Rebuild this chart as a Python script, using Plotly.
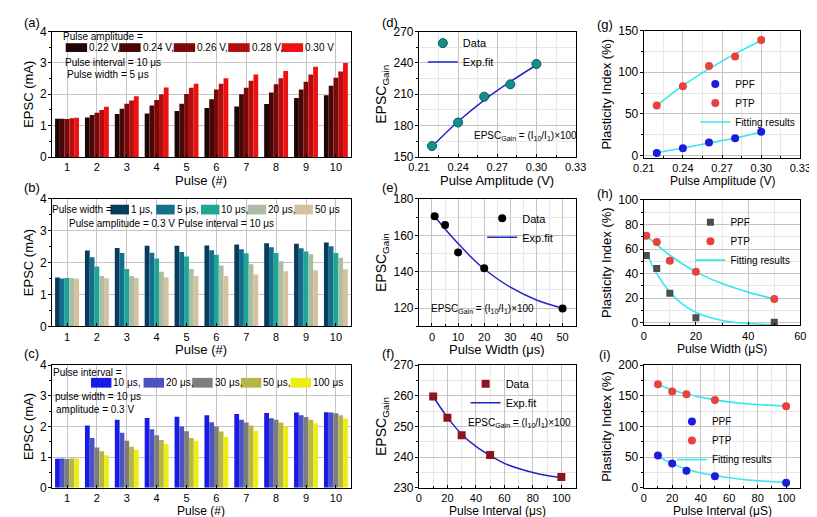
import plotly.graph_objects as go

# ---------------- data ----------------
pulses = [1, 2, 3, 4, 5, 6, 7, 8, 9, 10]

# (a) pulse amplitude series
amp_labels = ["0.22 V,", "0.24 V,", "0.26 V,", "0.28 V,", "0.30 V"]
epsc_a_022 = [1.22, 1.26, 1.37, 1.39, 1.47, 1.56, 1.61, 1.69, 1.88, 1.97]
epsc_a_024 = [1.22, 1.34, 1.54, 1.64, 1.70, 1.84, 2.00, 2.06, 2.15, 2.27]
epsc_a_026 = [1.21, 1.41, 1.70, 1.82, 2.01, 2.15, 2.21, 2.32, 2.40, 2.53]
epsc_a_028 = [1.24, 1.50, 1.80, 2.00, 2.21, 2.34, 2.43, 2.51, 2.63, 2.73]
epsc_a_030 = [1.25, 1.60, 1.94, 2.22, 2.34, 2.51, 2.63, 2.74, 2.88, 3.00]

# (b) pulse width series
width_labels = ["1 μs,", "5 μs,", "10 μs,", "20 μs,", "50 μs"]
epsc_b_1 = [1.53, 2.38, 2.46, 2.53, 2.53, 2.54, 2.57, 2.61, 2.59, 2.63]
epsc_b_5 = [1.50, 2.17, 2.30, 2.31, 2.33, 2.39, 2.42, 2.48, 2.45, 2.51]
epsc_b_10 = [1.52, 1.88, 1.80, 2.13, 2.19, 2.25, 2.29, 2.30, 2.35, 2.30]
epsc_b_20 = [1.51, 1.58, 1.58, 1.71, 1.80, 1.91, 1.95, 2.04, 2.26, 2.15]
epsc_b_50 = [1.50, 1.51, 1.52, 1.54, 1.58, 1.58, 1.63, 1.73, 1.76, 1.79]

# (c) pulse interval series
interval_labels = ["10 μs,", "20 μs,", "30 μs,", "50 μs,", "100 μs"]
epsc_c_10 = [0.95, 2.03, 2.22, 2.28, 2.32, 2.37, 2.41, 2.44, 2.46, 2.47]
epsc_c_20 = [0.96, 1.63, 1.80, 1.91, 2.00, 2.14, 2.22, 2.27, 2.37, 2.46]
epsc_c_30 = [0.94, 1.32, 1.54, 1.72, 1.85, 2.00, 2.13, 2.22, 2.31, 2.43]
epsc_c_50 = [0.96, 1.19, 1.34, 1.56, 1.63, 1.84, 2.03, 2.13, 2.22, 2.37]
epsc_c_100 = [0.96, 1.06, 1.24, 1.43, 1.54, 1.66, 1.86, 1.99, 2.11, 2.26]

# (d) gain vs amplitude
amp_x = [0.22, 0.24, 0.26, 0.28, 0.30]
gain_amp = [160.5, 183.0, 207.7, 219.5, 239.0]
fit_amp_y = [160.0, 184.0, 204.5, 222.0, 238.0]

# (e) gain vs width
width_x = [1, 5, 10, 20, 50]
gain_width = [170.5, 165.6, 150.6, 141.9, 119.8]
fit_width_x = [1, 5, 10, 15, 20, 30, 40, 50]
fit_width_y = [170.5, 163.5, 155.5, 148.0, 141.5, 131.5, 124.5, 120.0]

# (f) gain vs interval
interval_x = [10, 20, 30, 50, 100]
gain_interval = [259.8, 252.9, 247.2, 240.7, 233.5]
fit_interval_x = [10, 20, 30, 40, 50, 60, 70, 80, 90, 100]
fit_interval_y = [259.8, 253.0, 247.5, 243.5, 240.5, 238.0, 236.3, 235.0, 234.0, 233.3]

# (g) plasticity vs amplitude
ppf_amp = [3.1, 8.6, 15.6, 20.7, 28.5]
ptp_amp = [60.2, 83.2, 107.4, 118.8, 138.7]
fit_ppf_amp = [3.5, 9.0, 15.0, 21.0, 28.0]
fit_ptp_amp = [60.0, 84.0, 104.0, 122.0, 138.0]

# (h) plasticity vs width
ppf_width = [54.7, 44.2, 24.0, 4.2, 0.5]
ptp_width = [70.8, 65.8, 50.5, 41.6, 19.5]
fit_ppf_width_x = [1, 5, 10, 15, 20, 30, 40, 50]
fit_ppf_width_y = [57.5, 40.0, 25.0, 15.0, 8.5, 2.0, -0.5, -1.5]
fit_ptp_width_x = [1, 5, 10, 20, 30, 40, 50]
fit_ptp_width_y = [71.0, 63.5, 55.0, 41.5, 32.0, 25.0, 19.5]

# (i) plasticity vs interval
ppf_interval = [52.6, 39.7, 27.8, 19.0, 8.2]
ptp_interval = [169.0, 157.0, 152.6, 143.3, 133.0]
fit_int_x = [10, 20, 30, 50, 70, 100]
fit_ppf_int_y = [51.5, 39.5, 30.5, 20.0, 13.5, 9.0]
fit_ptp_int_y = [168.0, 160.0, 153.0, 143.5, 137.5, 133.5]

# ---------------- styles / layout ----------------
W, H = 817, 517
FONT = "Arial, Liberation Sans, sans-serif"

def fx(p):
    return p / W

def fy(p):
    return 1 - p / H

amp_colors = ["#1e0606", "#4a0707", "#7a0a0a", "#b30d0d", "#ee1111"]
width_colors = ["#083b5c", "#136f8c", "#1fa596", "#a9bea5", "#d5c0a0"]
interval_colors = ["#1a1ae6", "#4b52c4", "#7d7d7d", "#b5b548", "#eded14"]
FIT_BLUE = "#2424c8"
FIT_CYAN = "#33e8f0"
PPF_BLUE = "#1c1cdc"
PTP_RED = "#e8413e"

# panel pixel boxes: (x0, x1, ytop, ybottom)
boxes = {
    1: (34, 341, 17, 146), 2: (34, 341, 189, 320), 3: (34, 341, 360, 486),
    4: (411, 572, 17, 146), 5: (411, 572, 189, 320), 6: (411, 572, 360, 486),
    7: (642, 803, 16, 147), 8: (642, 803, 190, 319), 9: (642, 803, 360, 486),
}

fig = go.Figure()

def ax_name(i, kind):
    return kind if i == 1 else f"{kind}{i}"

def add_bars(i, series, labels, colors):
    for vals, lab, col in zip(series, labels, colors):
        fig.add_trace(go.Bar(x=pulses, y=vals, name=lab, marker_color=col,
                             marker_line_width=0, showlegend=False,
                             xaxis=ax_name(i, "x"), yaxis=ax_name(i, "y")))

add_bars(1, [epsc_a_022, epsc_a_024, epsc_a_026, epsc_a_028, epsc_a_030], amp_labels, amp_colors)
add_bars(2, [epsc_b_1, epsc_b_5, epsc_b_10, epsc_b_20, epsc_b_50], width_labels, width_colors)
add_bars(3, [epsc_c_10, epsc_c_20, epsc_c_30, epsc_c_50, epsc_c_100], interval_labels, interval_colors)

def sc(i, x, y, name, legend, rank, **kw):
    fig.add_trace(go.Scatter(x=x, y=y, name=name, legend=legend, legendrank=rank,
                             xaxis=ax_name(i, "x"), yaxis=ax_name(i, "y"), **kw))

# (d)
sc(4, amp_x, fit_amp_y, "Exp.fit", "legend4", 2, mode="lines",
   line=dict(color=FIT_BLUE, width=1.5, shape="spline"))
sc(4, amp_x, gain_amp, "Data", "legend4", 1, mode="markers",
   marker=dict(color="#11908e", size=9, line=dict(color="#0a5a5a", width=1)))
# (e)
sc(5, fit_width_x, fit_width_y, "Exp.fit", "legend5", 2, mode="lines",
   line=dict(color=FIT_BLUE, width=1.5, shape="spline"))
sc(5, width_x, gain_width, "Data", "legend5", 1, mode="markers",
   marker=dict(color="black", size=8))
# (f)
sc(6, fit_interval_x, fit_interval_y, "Exp.fit", "legend6", 2, mode="lines",
   line=dict(color=FIT_BLUE, width=1.5, shape="spline"))
sc(6, interval_x, gain_interval, "Data", "legend6", 1, mode="markers",
   marker=dict(color="#8e1420", size=8, symbol="square"))
# (g)
sc(7, amp_x, fit_ptp_amp, "Fitting results", "legend7", 3, mode="lines",
   line=dict(color=FIT_CYAN, width=1.6, shape="spline"))
sc(7, amp_x, fit_ppf_amp, "Fitting results", "legend7", 4, mode="lines", showlegend=False,
   line=dict(color=FIT_CYAN, width=1.6, shape="spline"))
sc(7, amp_x, ppf_amp, "PPF", "legend7", 1, mode="markers",
   marker=dict(color=PPF_BLUE, size=8))
sc(7, amp_x, ptp_amp, "PTP", "legend7", 2, mode="markers",
   marker=dict(color=PTP_RED, size=8))
# (h)
sc(8, fit_ptp_width_x, fit_ptp_width_y, "Fitting results", "legend8", 3, mode="lines",
   line=dict(color=FIT_CYAN, width=1.6, shape="spline"))
sc(8, fit_ppf_width_x, fit_ppf_width_y, "Fitting results", "legend8", 4, mode="lines",
   showlegend=False, line=dict(color=FIT_CYAN, width=1.6, shape="spline"))
sc(8, width_x, ppf_width, "PPF", "legend8", 1, mode="markers",
   marker=dict(color="#4d4d4d", size=7, symbol="square"))
sc(8, width_x, ptp_width, "PTP", "legend8", 2, mode="markers",
   marker=dict(color=PTP_RED, size=8))
# (i)
sc(9, fit_int_x, fit_ptp_int_y, "Fitting results", "legend9", 3, mode="lines",
   line=dict(color=FIT_CYAN, width=1.6, shape="spline"))
sc(9, fit_int_x, fit_ppf_int_y, "Fitting results", "legend9", 4, mode="lines",
   showlegend=False, line=dict(color=FIT_CYAN, width=1.6, shape="spline"))
sc(9, interval_x, ppf_interval, "PPF", "legend9", 1, mode="markers",
   marker=dict(color=PPF_BLUE, size=8))
sc(9, interval_x, ptp_interval, "PTP", "legend9", 2, mode="markers",
   marker=dict(color=PTP_RED, size=8))

# ---------------- axes ----------------
def base_axis(minor_dtick=None, minor_grid=True, standoff=0, tickdir="outside", tsize=12):
    d = dict(showline=True, linecolor="black", linewidth=1, mirror=True,
             ticks=tickdir, ticklen=3, tickwidth=1, tickcolor="black",
             ticklabelstandoff=standoff,
             showgrid=True, gridcolor="#c4c4c4", gridwidth=1, zeroline=False,
             tickfont=dict(size=tsize, color="black", family=FONT))
    if minor_dtick is not None:
        d["minor"] = dict(dtick=minor_dtick, ticks=tickdir, ticklen=2,
                          tickcolor="black", showgrid=minor_grid, gridcolor="#e8e8e8")
    return d

xcfg = {
    1: dict(range=[0.5, 10.5], tickvals=pulses, minor=None, mg=False),
    2: dict(range=[0.5, 10.5], tickvals=pulses, minor=None, mg=False),
    3: dict(range=[0.5, 10.5], tickvals=pulses, minor=None, mg=False),
    4: dict(range=[0.21, 0.33], dtick=0.03, tick0=0.21, fmt=".2f", minor=0.015, mg=True),
    5: dict(range=[-5, 55], dtick=10, tick0=0, minor=5, mg=True),
    6: dict(range=[0, 110], dtick=20, tick0=0, minor=10, mg=True),
    7: dict(range=[0.21, 0.33], dtick=0.03, tick0=0.21, fmt=".2f", minor=0.015, mg=True),
    8: dict(range=[0, 60], dtick=20, tick0=0, minor=10, mg=True),
    9: dict(range=[0, 110], dtick=20, tick0=0, minor=10, mg=True),
}
ycfg = {
    1: dict(range=[0, 4], dtick=1, title="EPSC (mA)", tsize=13, minor=0.5, mg=False),
    2: dict(range=[0, 4], dtick=1, title="EPSC (mA)", tsize=13, minor=0.5, mg=False),
    3: dict(range=[0, 4], dtick=1, title="EPSC (mA)", tsize=13, minor=0.5, mg=False),
    4: dict(range=[150, 270], dtick=30, title="EPSC<sub>Gain</sub>", tsize=14, minor=15, mg=True),
    5: dict(range=[110, 180], dtick=20, tick0=120, title="EPSC<sub>Gain</sub>", tsize=14, minor=10, mg=True),
    6: dict(range=[230, 270], dtick=10, title="EPSC<sub>Gain</sub>", tsize=14, minor=5, mg=True),
    7: dict(range=[-3, 150], dtick=50, tick0=0, title="Plasticity Index (%)", tsize=13, minor=25, mg=True),
    8: dict(range=[-2, 100], dtick=20, tick0=0, title="Plasticity Index (%)", tsize=13, minor=10, mg=True),
    9: dict(range=[0, 200], dtick=50, tick0=0, title="Plasticity Index (%)", tsize=13, minor=25, mg=True),
}

layout_axes = {}
for i in range(1, 10):
    x0, x1, yt, yb = boxes[i]
    xc, yc = xcfg[i], ycfg[i]
    xa = base_axis(xc["minor"], xc["mg"], standoff=0, tickdir="inside", tsize=11)
    xa.update(domain=[fx(x0), fx(x1)], anchor=ax_name(i, "y"), range=xc["range"])
    if "tickvals" in xc:
        xa["tickvals"] = xc["tickvals"]
    else:
        xa.update(dtick=xc["dtick"], tick0=xc["tick0"])
    if "fmt" in xc:
        xa["tickformat"] = xc["fmt"]
    ya = base_axis(yc["minor"], yc["mg"], standoff=-1, tsize=12)
    ya.update(domain=[fy(yb), fy(yt)], anchor=ax_name(i, "x"), range=yc["range"], dtick=yc["dtick"],
              title=dict(text=yc["title"], font=dict(size=yc["tsize"], family=FONT), standoff=3))
    if "tick0" in yc:
        ya["tick0"] = yc["tick0"]
    layout_axes["xaxis" if i == 1 else f"xaxis{i}"] = xa
    layout_axes["yaxis" if i == 1 else f"yaxis{i}"] = ya

fig.update_layout(**layout_axes)

# ---------------- legends for scatter panels ----------------
# (left x of legend box, top y of legend box, font size) in pixels
legend_pos = {4: (415, 14, 11), 5: (476, 194, 11), 6: (459, 364, 11),
              7: (695, 56, 10), 8: (690, 198, 10), 9: (671, 403, 10)}
legends = {}
for i, (lx, ly, fs) in legend_pos.items():
    legends[f"legend{i}"] = dict(x=fx(lx), y=fy(ly), xanchor="left", yanchor="top",
                                 bgcolor="rgba(0,0,0,0)", borderwidth=0,
                                 font=dict(size=fs, family=FONT, color="black"),
                                 itemwidth=30, tracegroupgap=0, traceorder="normal")
fig.update_layout(**legends)

# ---------------- keys, notes and titles (text) ----------------
shapes = []
annotations = []

def key_row(colors, labels, xs, ytop, ybot, sw, size):
    for c, lab, x in zip(colors, labels, xs):
        shapes.append(dict(type="rect", xref="paper", yref="paper", x0=fx(x), x1=fx(x + sw),
                           y0=fy(ybot), y1=fy(ytop), fillcolor=c, line=dict(width=0)))
        annotations.append(dict(text=lab, x=fx(x + sw), y=fy((ytop + ybot) / 2), xref="paper", yref="paper",
                                xanchor="left", yanchor="middle", showarrow=False,
                                font=dict(size=size, family=FONT, color="black")))

def txt(text, x, y, size=12, xanchor="left"):
    annotations.append(dict(text=text, x=fx(x), y=fy(y), xref="paper", yref="paper",
                            xanchor=xanchor, yanchor="middle", showarrow=False,
                            font=dict(size=size, family=FONT, color="black")))

key_row(amp_colors, amp_labels, [48, 103, 159, 215, 270], 29, 38, 22, 10)
txt("Pulse amplitude =", 43, 22, 10)
txt("Pulse interval = 10 μs", 45, 49, 10)
txt("Pulse width = 5 μs", 47, 61, 10)

key_row(width_colors, width_labels, [94, 141, 187, 235, 283], 195, 205, 19, 10)
txt("Pulse width =", 32, 200, 10)
txt("Pulse amplitude = 0.3 V", 49, 214, 10)
txt("Pulse interval = 10 μs", 161, 214, 10)

key_row(interval_colors, interval_labels, [74, 128, 178, 228, 279], 373, 383, 21, 10)
txt("Pulse interval =", 33, 367, 10)
txt("pulse width = 10 μs", 35, 392, 10)
txt("amplitude = 0.3 V", 36, 405, 10)

gain_txt = "EPSC<sub>Gain</sub> = (I<sub>10</sub>/I<sub>1</sub>)×100"
txt(gain_txt, 466, 124, 10)
txt(gain_txt, 421, 302, 10)
txt(gain_txt, 459, 419, 10)

# x-axis titles
for text, x, y, s in [("Pulse (#)", 187.5, 170.5, 13), ("Pulse (#)", 187.5, 344, 13), ("Pulse (#)", 187.5, 509.5, 12),
                      ("Pulse Amplitude (V)", 491.5, 170.5, 13), ("Pulse Width (μs)", 491.5, 344, 13),
                      ("Pulse Interval (μs)", 491.5, 509.5, 12),
                      ("Pulse Amplitude (V)", 722.5, 171, 12), ("Pulse Width (μS)", 722.5, 343, 12),
                      ("Pulse Interval (μS)", 722.5, 509.5, 12)]:
    txt(text, x, y, s, xanchor="center")

for lab, x, y in [("(a)", 3, 8), ("(b)", 3, 177), ("(c)", 3, 348),
                  ("(d)", 371, 8), ("(e)", 371, 177), ("(f)", 371, 348),
                  ("(g)", 592, 10), ("(h)", 592, 183), ("(i)", 594, 349)]:
    txt(lab, x, y, 13)

fig.update_layout(
    width=W, height=H, margin=dict(l=0, r=0, t=0, b=0),
    paper_bgcolor="white", plot_bgcolor="white",
    barmode="group", bargap=0.2, bargroupgap=0,
    font=dict(family=FONT, size=12, color="black"),
    shapes=shapes, annotations=annotations,
)

fig.write_html("out.html")
